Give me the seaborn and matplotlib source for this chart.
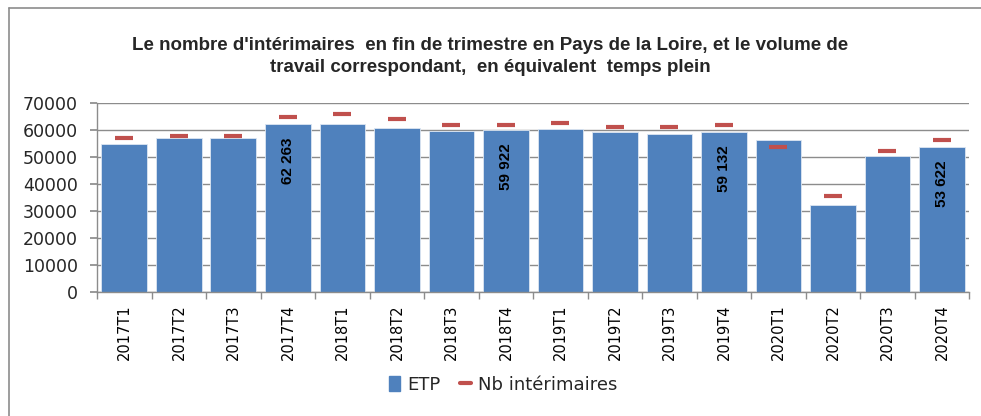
import matplotlib
matplotlib.use("Agg")
import matplotlib.pyplot as plt
from matplotlib.lines import Line2D
from matplotlib.patches import Patch
import seaborn as sns
import pandas as pd
import numpy as np

categories = ["2017T1", "2017T2", "2017T3", "2017T4",
              "2018T1", "2018T2", "2018T3", "2018T4",
              "2019T1", "2019T2", "2019T3", "2019T4",
              "2020T1", "2020T2", "2020T3", "2020T4"]
etp = [54600, 56800, 56900, 62263,
       62300, 60800, 59400, 59922,
       60200, 59300, 58400, 59132,
       56100, 32200, 50400, 53622]
nb_interimaires = [56800, 57600, 57600, 64800,
                   65700, 64000, 61800, 61800,
                   62500, 61000, 61000, 61800,
                   53800, 35400, 52200, 56200]
labelled = ["2017T4", "2018T4", "2019T4", "2020T4"]
title = ("Le nombre d'intérimaires  en fin de trimestre en Pays de la Loire, et le volume de\n"
         "travail correspondant,  en équivalent  temps plein")

df = pd.DataFrame({"trimestre": categories, "ETP": etp, "Nb": nb_interimaires})

sns.set_theme(style="white")
plt.rcParams["font.family"] = ["DejaVu Sans"]

bar_color = "#4F81BD"
mark_color = "#C0504D"

fig = plt.figure(figsize=(9.81, 4.16), dpi=100)
ax = fig.add_axes([0.099, 0.298, 0.889, 0.455])

sns.barplot(data=df, x="trimestre", y="ETP", color=bar_color, saturation=1,
            width=0.84, edgecolor="#DCE6F2", linewidth=0.6, ax=ax, zorder=2)
sns.pointplot(data=df, x="trimestre", y="Nb", color=mark_color, markers="_",
              linestyle="none", markersize=13, markeredgewidth=3, ax=ax, zorder=3)

# data labels inside end for selected bars
for i, (c, v) in enumerate(zip(categories, etp)):
    if c in labelled:
        txt = f"{v:,}".replace(",", " ")
        ax.text(i, v - 5000, txt, rotation=90, ha="center", va="top",
                fontsize=11, fontweight="bold", color="black",
                family="Liberation Sans", zorder=4)

ax.set_ylim(0, 70000)
ax.set_xlim(-0.5, len(categories) - 0.5)
ax.set_yticks(np.arange(0, 70001, 10000))
ax.set_yticklabels([str(v) for v in range(0, 70001, 10000)], fontsize=12.5)
ax.yaxis.grid(True, color="#8C8C8C", linewidth=1.0, zorder=0)
ax.set_axisbelow(True)
ax.set_xlabel("")
ax.set_ylabel("")

ax.set_xticks(range(len(categories)))
ax.set_xticklabels(categories, rotation=90, fontsize=10.5)
ax.set_xticks(np.arange(-0.5, len(categories), 1), minor=True)
ax.tick_params(axis="x", which="major", length=0, pad=9, colors="black")
ax.tick_params(axis="x", which="minor", length=5, color="#8C8C8C", direction="out", bottom=True)
ax.tick_params(axis="y", length=5, color="#8C8C8C", direction="out", left=True, pad=9)

for s in ["top", "right"]:
    ax.spines[s].set_visible(False)
for s in ["left", "bottom"]:
    ax.spines[s].set_color("#8C8C8C")
    ax.spines[s].set_linewidth(1.0)

fig.text(0.5, 0.865, title, ha="center", va="center", fontsize=13.5,
         fontweight="bold", linespacing=1.4, family="Liberation Sans")

handles = [Patch(facecolor=bar_color, edgecolor=bar_color, label="ETP"),
           Line2D([0], [0], color=mark_color, linewidth=3, marker=None,
                  label="Nb intérimaires")]
fig.legend(handles=handles, loc="center", bbox_to_anchor=(0.513, 0.075), ncol=2,
           frameon=False, fontsize=13, handlelength=0.6, handleheight=0.9,
           columnspacing=1.1, handletextpad=0.4)

# outer chart border (top and left visible)
fig.add_artist(Line2D([9 / 981, 9 / 981], [0, 1 - 8 / 416], transform=fig.transFigure,
                      color="#8C8C8C", linewidth=1.2))
fig.add_artist(Line2D([9 / 981, 1], [1 - 8 / 416, 1 - 8 / 416], transform=fig.transFigure,
                      color="#8C8C8C", linewidth=1.2))

fig.savefig("out.png", dpi=100, facecolor="white")
